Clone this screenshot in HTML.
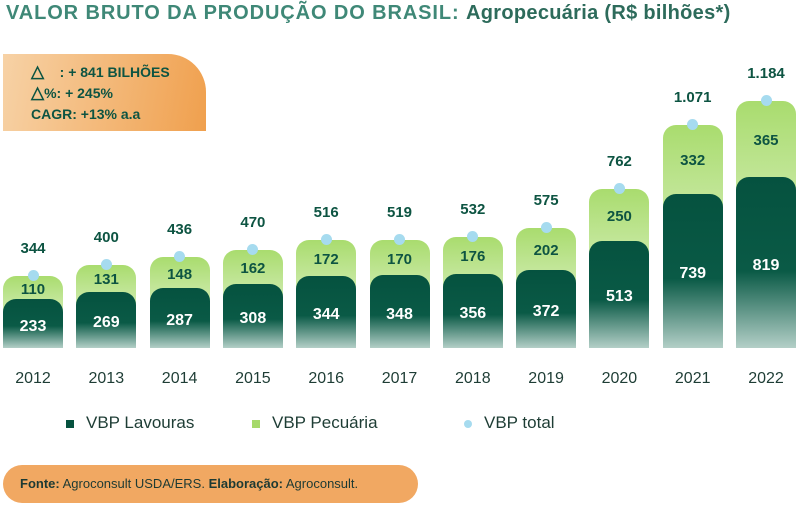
<!DOCTYPE html>
<html><head><meta charset="utf-8"><style>
body{margin:0;width:796px;height:506px;background:#fff;font-family:"Liberation Sans",sans-serif;position:relative;overflow:hidden}
.t{position:absolute;left:6px;top:2px;font-size:20px;font-weight:bold;color:#3f8877;white-space:nowrap;letter-spacing:0.9px}
.t span{color:#2d6b5b;font-weight:bold;letter-spacing:0.3px}
.box{position:absolute;left:3px;top:54px;width:203px;height:77px;border-radius:0 38px 0 0;background:linear-gradient(100deg,#f7d2a6,#f0a04e);color:#0d5442;font-weight:bold;font-size:14px;line-height:21px;padding:8px 0 0 28px;box-sizing:border-box}
.tri{display:inline-block;font-size:17px;line-height:14px}
.bar{position:absolute;width:60px;border-radius:13px 13px 0 0}
.g{background:linear-gradient(#a9dc6e,#f4faee)}
.d{background:linear-gradient(#05523f 0%,#0a5a46 55%,#b3cfc7 100%)}
.lab{position:absolute;width:80px;text-align:center;font-weight:bold;font-size:15px}
.dot{position:absolute;width:11px;height:11px;border-radius:50%;background:#a6dbef}
.yr{position:absolute;top:370px;width:80px;text-align:center;font-size:16px;color:#1e3d35}
.leg{position:absolute;top:413px;font-size:17px;color:#1e3d35}
.foot{position:absolute;left:3px;top:465px;width:415px;height:38px;border-radius:19px;background:#f1a862;font-size:13px;color:#1d3a33;line-height:38px;padding-left:17px;box-sizing:border-box}
</style></head><body>
<div class="t">VALOR BRUTO DA PRODUÇÃO DO BRASIL: <span>Agropecuária (R$ bilhões*)</span></div>
<div class="box"><div><span class="tri">△</span> &nbsp;&nbsp;&nbsp;: + 841 BILHÕES</div><div><span class="tri">△</span>%: + 245%</div><div>CAGR: +13% a.a</div></div>
<div id="c"></div>
<div class="leg" style="left:66px"><span style="display:inline-block;width:8px;height:8px;background:#05523f;margin-right:12px"></span>VBP Lavouras</div>
<div class="leg" style="left:252px"><span style="display:inline-block;width:8px;height:8px;background:#a6d96a;margin-right:12px"></span>VBP Pecuária</div>
<div class="leg" style="left:464px"><span style="display:inline-block;width:8px;height:8px;border-radius:50%;background:#a6dbef;margin-right:12px"></span>VBP total</div>
<div class="foot"><b>Fonte:</b> Agroconsult USDA/ERS. <b>Elaboração:</b> Agroconsult.</div>
<script>
var d=[[2012,233,110,"344"],[2013,269,131,"400"],[2014,287,148,"436"],[2015,308,162,"470"],[2016,344,172,"516"],[2017,348,170,"519"],[2018,356,176,"532"],[2019,372,202,"575"],[2020,513,250,"762"],[2021,739,332,"1.071"],[2022,819,365,"1.184"]];
var h="",B=348,k=0.2086;
d.forEach(function(r,i){var cx=33+i*73.3,l=cx-30;var dt=B-r[1]*k,gt=dt-r[2]*k;
h+='<div class="bar g" style="left:'+l+'px;top:'+gt+'px;height:'+(B-gt)+'px"></div>';
h+='<div class="bar d" style="left:'+l+'px;top:'+dt+'px;height:'+(B-dt)+'px"></div>';
h+='<div class="lab" style="left:'+(cx-40)+'px;top:'+((dt+B)/2-6)+'px;color:#fff;font-size:16px">'+r[1]+'</div>';
h+='<div class="lab" style="left:'+(cx-40)+'px;top:'+((gt+dt)/2-7)+'px;color:#0d5442">'+r[2]+'</div>';
h+='<div class="dot" style="left:'+(cx-5.5)+'px;top:'+(gt-6)+'px"></div>';
h+='<div class="lab" style="left:'+(cx-40)+'px;top:'+(gt-36)+'px;color:#0d5442">'+r[3]+'</div>';
h+='<div class="yr" style="left:'+(cx-40)+'px">'+r[0]+'</div>';});
document.getElementById("c").innerHTML=h;
</script>
</body></html>
